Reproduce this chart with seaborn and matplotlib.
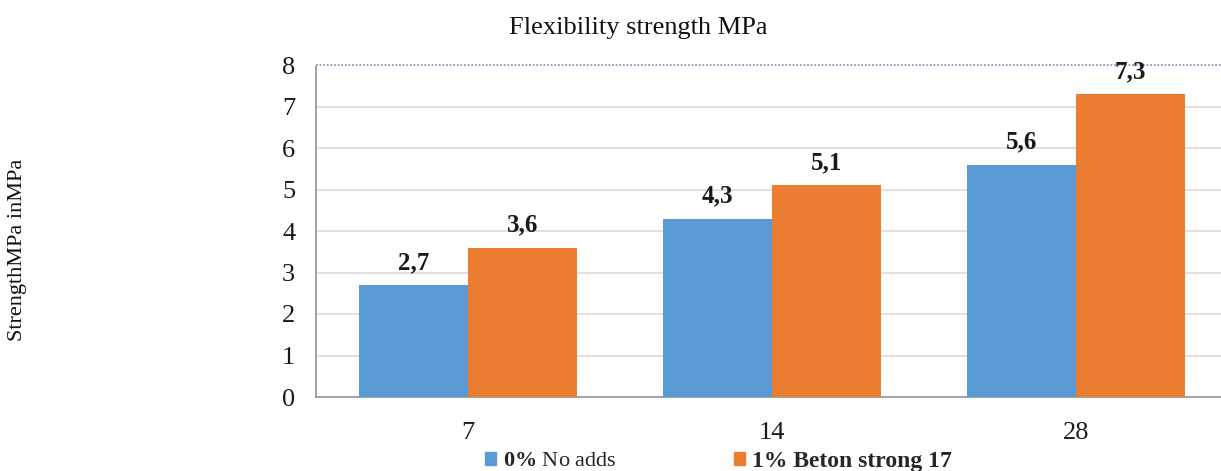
import matplotlib
matplotlib.use("Agg")
import matplotlib.pyplot as plt
import seaborn as sns
import pandas as pd

# Curing age (days) and flexural strength (MPa)
ages = ["7", "14", "28"]
no_adds = [2.7, 4.3, 5.6]
beton_strong = [3.6, 5.1, 7.3]
series_names = ["0% No adds", "1% Beton strong 17"]
y_ticks = [0, 1, 2, 3, 4, 5, 6, 7, 8]

sns.set_theme(style="white")
plt.rcParams["font.family"] = ["Liberation Serif", "DejaVu Serif"]
plt.rcParams["mathtext.fontset"] = "custom"
plt.rcParams["mathtext.rm"] = "Liberation Serif"
plt.rcParams["mathtext.bf"] = "Liberation Serif:bold"

df = pd.DataFrame({
    "age": ages * 2,
    "strength": no_adds + beton_strong,
    "mix": [series_names[0]] * len(ages) + [series_names[1]] * len(ages),
})

W, H = 1221, 471
fig = plt.figure(figsize=(W / 100, H / 100), dpi=100)
ax = fig.add_axes([316 / W, 1 - 397 / H, (1228 - 316) / W, (397 - 65) / H])

palette = {series_names[0]: "#5B9BD5", series_names[1]: "#ED7D31"}
sns.barplot(data=df, x="age", y="strength", hue="mix", order=ages,
            hue_order=series_names, palette=palette, width=0.72,
            saturation=1, gap=0, linewidth=0, ax=ax, legend=False, zorder=3)

ax.set_xlim(-0.5, 2.5)
ax.set_ylim(0, 8)
ax.set_yticks(y_ticks)
ax.set_yticklabels([str(t) for t in y_ticks])
ax.set_xlabel("")
ax.set_ylabel("")

# gridlines
for t in y_ticks[1:-1]:
    ax.axhline(t, color="#dcdcdc", lw=1.2, zorder=1)
ax.axhline(8, color="#8a9ab8", lw=1.3, ls=(0, (1, 1)), zorder=1, clip_on=False)

for side in ["right", "top"]:
    ax.spines[side].set_visible(False)
for side in ["left", "bottom"]:
    ax.spines[side].set_visible(True)
    ax.spines[side].set_color("#9a9a9a")
    ax.spines[side].set_linestyle((0, (1, 1)))
    ax.spines[side].set_linewidth(1.3)

ax.tick_params(axis="y", length=0, pad=15, labelsize=19, labelcolor="#1a1a1a")
ax.tick_params(axis="x", length=0, pad=18, labelsize=19, labelcolor="#1a1a1a")

# value labels with comma decimal separator
for cont in ax.containers:
    vals = [b.get_height() for b in cont]
    ax.bar_label(cont, labels=[f"{v:.1f}".replace(".", ",") for v in vals],
                 padding=8, fontsize=18, fontweight="bold", color="#1a1a1a")

fig.text(0.5225, 1 - 28 / H, "Flexibility strength MPa", ha="center", va="center",
         fontsize=19, color="#111111")
fig.text(18 / W, 1 - 250 / H, "StrengthMPa inMPa", rotation=90, ha="center",
         va="center", fontsize=16, color="#111111")

handles = [plt.Rectangle((0, 0), 1, 1, color=palette[n]) for n in series_names]
labels = [r"$\mathbf{0\%}$" + " No adds", series_names[1]]
leg = fig.legend(handles, labels, loc="center left",
                 bbox_to_anchor=(485 / W, 1 - 461 / H),
                 ncol=2, frameon=False, fontsize=16, handlelength=0.5,
                 handleheight=0.5, handletextpad=0.3, columnspacing=5.3,
                 borderpad=0, borderaxespad=0)
leg.get_texts()[1].set_fontweight("bold")
leg.get_texts()[1].set_fontsize(17)

fig.savefig("out.png", dpi=100, facecolor="white")
